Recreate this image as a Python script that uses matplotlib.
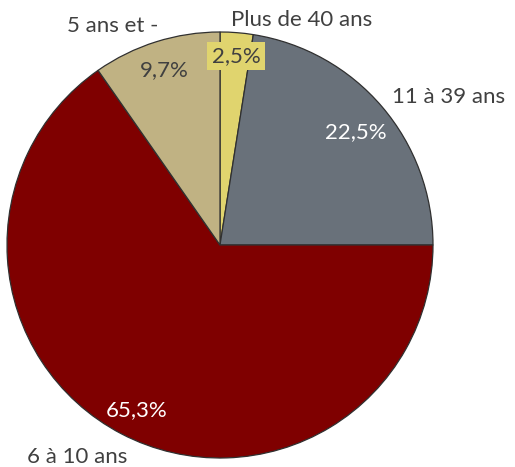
import matplotlib
matplotlib.use("Agg")
import matplotlib.pyplot as plt

categories = ["Plus de 40 ans", "11 à 39 ans", "6 à 10 ans", "5 ans et -"]
values = [2.5, 22.5, 65.3, 9.7]
pct_labels = ["2,5%", "22,5%", "65,3%", "9,7%"]
colors = ["#E0D46E", "#69717A", "#7F0000", "#C0B283"]
pct_colors = ["#404040", "white", "white", "#404040"]

W, H = 515, 467
fig = plt.figure(figsize=(W / 100, H / 100), dpi=100)
ax = fig.add_axes([0, 0, 1, 1])

wedges, texts, autotexts = ax.pie(
    values, labels=categories, colors=colors, startangle=90, counterclock=False,
    center=(220, H - 245), radius=213, autopct="%1.1f%%",
    wedgeprops=dict(edgecolor="#303030", linewidth=0.9),
    textprops=dict(family="Lato", fontsize=16, color="#404040"),
    frame=True,
)
ax.axis("off")
ax.set_xlim(0, W)
ax.set_ylim(0, H)
ax.set_aspect("equal")

label_pos = [(302, 20), (449, 97), (77, 457), (113, 26)]
pct_pos = [(236, 56), (356, 132), (137, 410), (164, 70)]
for t, (x, y) in zip(texts, label_pos):
    t.set_position((x, H - y))
    t.set_ha("center"); t.set_va("center")
for t, s, c, (x, y) in zip(autotexts, pct_labels, pct_colors, pct_pos):
    t.set_text(s)
    t.set_color(c)
    t.set_position((x, H - y))
    t.set_ha("center"); t.set_va("center")
autotexts[0].set_bbox(dict(facecolor=colors[0], edgecolor="none", pad=3))

fig.savefig("out.png", dpi=100)
